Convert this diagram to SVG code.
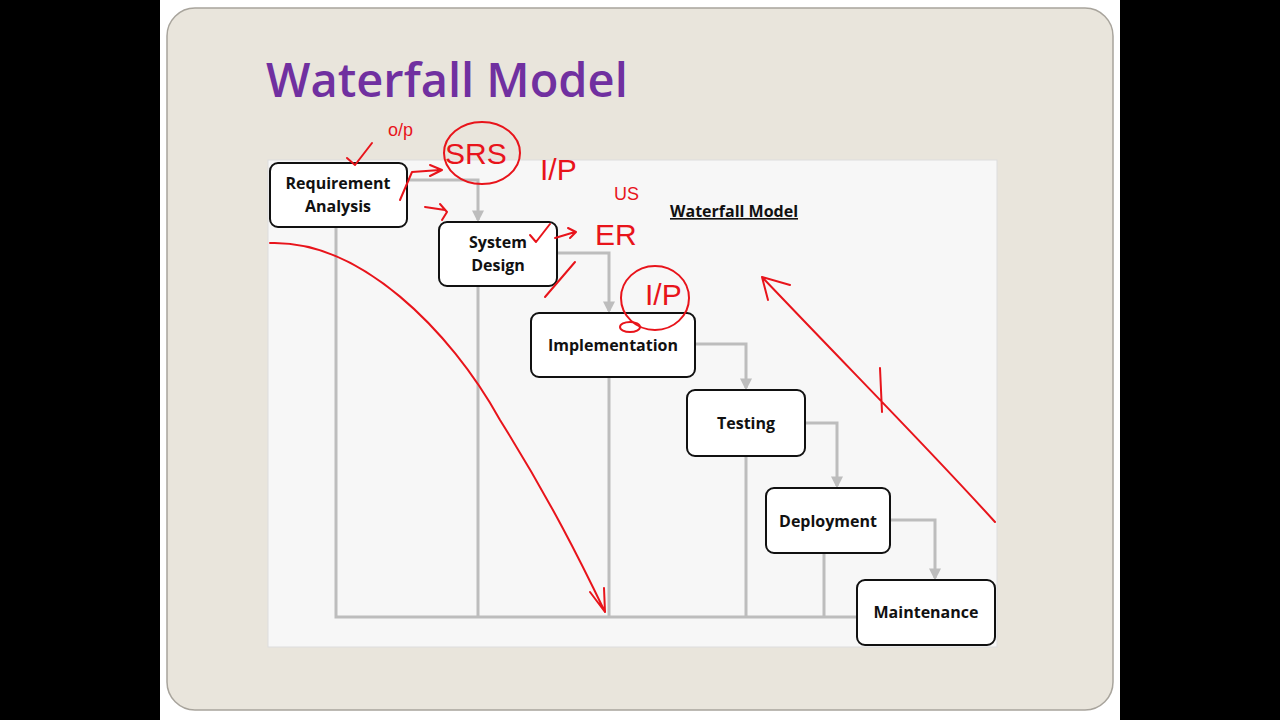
<svg xmlns="http://www.w3.org/2000/svg" width="1280" height="720" viewBox="0 0 1280 720">
<defs>
<style>
.node rect{fill:#fff;stroke:#111;stroke-width:2}
.node text{font-family:"Open Sans","Liberation Sans",sans-serif;font-weight:bold;font-size:16px;fill:#111;text-anchor:middle}
.con path{fill:none;stroke:#bdbdbd;stroke-width:3}
.ink{fill:none;stroke:#e8141b;stroke-width:2;stroke-linecap:round;stroke-linejoin:round}
.inkt{font-family:"Liberation Sans",sans-serif;fill:#e8141b;font-size:30px}
.sm{font-size:18px}
</style>
<marker id="ga" viewBox="0 0 10 10" refX="8" refY="5" markerWidth="4" markerHeight="4" orient="auto"><path d="M0,0L10,5L0,10z" fill="#bdbdbd"/></marker>
</defs>
<rect width="1280" height="720" fill="#000"/>
<rect x="160" y="0" width="960" height="720" fill="#fff"/>
<rect x="167" y="8" width="946" height="702" rx="28" fill="#e9e5dc" stroke="#a8a49c" stroke-width="1.5"/>
<text x="266" y="97" font-family="Open Sans,Liberation Sans,sans-serif" font-weight="600" font-size="47" fill="#7030a0">Waterfall Model</text>
<rect x="268" y="160" width="729" height="487" fill="#f7f7f7" stroke="#ddd"/>
<g class="con">
<path d="M407,180H478V220" marker-end="url(#ga)"/>
<path d="M557,253H609V311" marker-end="url(#ga)"/>
<path d="M695,344H746V388" marker-end="url(#ga)"/>
<path d="M805,423H837V486" marker-end="url(#ga)"/>
<path d="M890,520H935V578" marker-end="url(#ga)"/>
<path d="M336,227V617H857M478,286V617M609,377V617M746,456V617M824,553V617"/>
</g>
<text x="670" y="217" font-family="Open Sans,Liberation Sans,sans-serif" font-weight="bold" font-size="16" fill="#111" text-decoration="underline">Waterfall Model</text>
<g id="n1" class="node"><rect x="270" y="163" width="137" height="64" rx="8"/><text x="338" y="189">Requirement</text><text x="338" y="212">Analysis</text></g>
<g id="n2" class="node"><rect x="439" y="222" width="118" height="64" rx="8"/><text x="498" y="248">System</text><text x="498" y="271">Design</text></g>
<g id="n3" class="node"><rect x="531" y="313" width="164" height="64" rx="8"/><text x="613" y="351">Implementation</text></g>
<g id="n4" class="node"><rect x="687" y="390" width="118" height="66" rx="8"/><text x="746" y="429">Testing</text></g>
<g id="n5" class="node"><rect x="766" y="488" width="124" height="65" rx="8"/><text x="828" y="527">Deployment</text></g>
<g id="n6" class="node"><rect x="857" y="580" width="138" height="65" rx="8"/><text x="926" y="618">Maintenance</text></g>
<g id="ink">
<path class="ink" d="M347,158L355,165L372,143"/>
<text class="inkt sm" x="388" y="136">o/p</text>
<text class="inkt" x="445" y="164">SRS</text>
<ellipse class="ink" cx="482" cy="153" rx="38" ry="31"/>
<text class="inkt" x="540" y="180">I/P</text>
<path class="ink" d="M400,200L412,172L440,170M430,165L442,170L430,176" stroke-width="3"/>
<path class="ink" d="M425,207L445,210M440,204L447,212L442,220"/>
<path class="ink" d="M530,235L536,242L550,224M555,238L575,232M568,228L576,232L570,238"/>
<text class="inkt" x="595" y="245">ER</text>
<text class="inkt sm" x="614" y="200">US</text>
<path class="ink" d="M545,297L575,262"/>
<text class="inkt" x="645" y="305">I/P</text>
<ellipse class="ink" cx="655" cy="298" rx="34" ry="32"/>
<ellipse class="ink" cx="630" cy="327" rx="10" ry="5"/>
<path class="ink" d="M270,243C360,240 450,330 500,420C550,500 580,560 605,612M590,592L605,612L604,588"/>
<path class="ink" d="M995,522C930,450 860,380 762,277M762,277L790,285M762,277L768,300M880,368L882,412"/>
</g>
</svg>
